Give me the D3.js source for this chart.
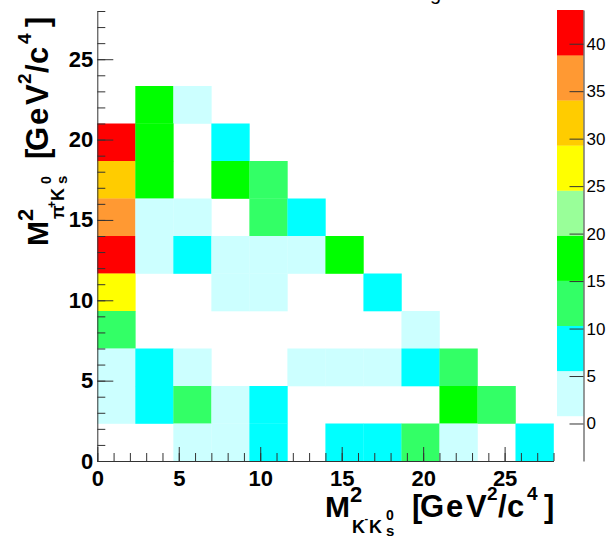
<!DOCTYPE html>
<html><head><meta charset="utf-8">
<script src="https://cdn.jsdelivr.net/npm/d3@7"></script>
<style>
body{margin:0;background:#fff}
svg{display:block}
text{font-family:"Liberation Sans",Arial,Helvetica,sans-serif}
</style>
</head><body>
<svg id="c" width="609" height="538"></svg>
<script>
// ---- data ----
const xRange = [0, 28];
const yRange = [0, 28];
const nBins = 12;
// counts per bin, rows listed from the top y-bin (11) down to the bottom y-bin (0); columns x-bin 0..11
const countsTopDown = [
  [0, 0, 0, 0, 0, 0, 0, 0, 0, 0, 0, 0],
  [0, 0, 0, 0, 0, 0, 0, 0, 0, 0, 0, 0],
  [0, 17, 3, 0, 0, 0, 0, 0, 0, 0, 0, 0],
  [42, 17, 0, 8, 0, 0, 0, 0, 0, 0, 0, 0],
  [31, 17, 0, 17, 12, 0, 0, 0, 0, 0, 0, 0],
  [37, 3, 3, 0, 12, 8, 0, 0, 0, 0, 0, 0],
  [41, 3, 8, 3, 3, 3, 17, 0, 0, 0, 0, 0],
  [27, 0, 0, 3, 3, 0, 0, 8, 0, 0, 0, 0],
  [12, 0, 0, 0, 0, 0, 0, 0, 3, 0, 0, 0],
  [3, 8, 3, 0, 0, 3, 3, 3, 8, 12, 0, 0],
  [3, 8, 12, 3, 8, 0, 0, 0, 0, 17, 12, 0],
  [0, 0, 3, 3, 8, 0, 8, 8, 12, 3, 0, 8]
];
const xMajorTicks = [0, 5, 10, 15, 20, 25];
const yMajorTicks = [0, 5, 10, 15, 20, 25];
const minorTicks = d3.range(0, 29, 1);
const zRange = [-3.95, 43.55];
const zTicks = [0, 5, 10, 15, 20, 25, 30, 35, 40];
const palette = ["#ffffff", "#ccffff", "#00ffff", "#33ff66", "#00ff00", "#99ff99", "#ffff00", "#ffcc00", "#ff9933", "#ff0000"];

// ---- layout ----
const svg = d3.select("#c");
const L = 97.3, R = 553.5, T = 11, B = 461;
const x = d3.scaleLinear(xRange, [L, R]);
const y = d3.scaleLinear(yRange, [B, T]);
const bw = (xRange[1] - xRange[0]) / nBins;
const bh = (yRange[1] - yRange[0]) / nBins;
const color = d3.scaleQuantize(zRange, palette);

// cells
const cells = [];
countsTopDown.forEach((row, i) => {
  const yb = nBins - 1 - i;
  row.forEach((v, j) => { if (v > 0) cells.push({ xb: j, yb, v }); });
});
svg.append("g").selectAll("rect").data(cells).join("rect")
  .attr("x", d => x(d.xb * bw))
  .attr("y", d => y((d.yb + 1) * bh))
  .attr("width", d => x((d.xb + 1) * bw) - x(d.xb * bw) + 0.3)
  .attr("height", d => y(d.yb * bh) - y((d.yb + 1) * bh) + 0.3)
  .attr("fill", d => color(d.v));

const axisCol = "#333";
function styleAxis(g) {
  g.selectAll("path,line").attr("stroke", axisCol).attr("stroke-width", 1);
}

// x axis
const gx = svg.append("g").attr("transform", `translate(0,${B})`);
gx.append("g").call(d3.axisBottom(x).tickValues(minorTicks).tickSizeInner(-8).tickSizeOuter(0).tickFormat(""))
  .call(styleAxis);
gx.append("g").call(d3.axisBottom(x).tickValues(xMajorTicks).tickSizeInner(-14).tickSizeOuter(0).tickPadding(9))
  .call(styleAxis)
  .call(g => g.select(".domain").remove())
  .selectAll("text").attr("font-size", 22).attr("font-weight", "bold").attr("fill", "#000")
  .attr("font-family", "'Liberation Sans',Arial,sans-serif");

// y axis
const gy = svg.append("g").attr("transform", `translate(${L},0)`);
gy.append("g").call(d3.axisLeft(y).tickValues(minorTicks).tickSizeInner(-8).tickSizeOuter(0).tickFormat(""))
  .call(styleAxis);
gy.append("g").call(d3.axisLeft(y).tickValues(yMajorTicks).tickSizeInner(-16).tickSizeOuter(0).tickPadding(4))
  .call(styleAxis)
  .call(g => g.select(".domain").remove())
  .selectAll("text").attr("font-size", 22).attr("font-weight", "bold").attr("fill", "#000")
  .attr("font-family", "'Liberation Sans',Arial,sans-serif");

// colour bar
const zx0 = 557, zx1 = 583.5;
const z = d3.scaleLinear(zRange, [B, 10]);
const nLev = palette.length;
const levW = (zRange[1] - zRange[0]) / nLev;
const bands = d3.range(nLev).map(k => ({ lo: zRange[0] + k * levW, hi: zRange[0] + (k + 1) * levW, c: palette[k] }));
svg.append("g").selectAll("rect").data(bands).join("rect")
  .attr("x", zx0).attr("width", zx1 - zx0)
  .attr("y", d => z(d.hi)).attr("height", d => z(d.lo) - z(d.hi) + 0.3)
  .attr("fill", d => d.c);
svg.append("g").attr("transform", `translate(${zx1},0)`)
  .call(d3.axisRight(z).tickValues(zTicks).tickSizeInner(-14).tickSizeOuter(0).tickPadding(3))
  .call(styleAxis)
  .selectAll("text").attr("font-size", 17).attr("fill", "#000")
  .attr("font-family", "'Liberation Sans',Arial,sans-serif");

// axis titles
function pieces(g, list) {
  list.forEach(p => g.append("text").attr("x", p.x).attr("y", p.y)
    .attr("font-size", p.s).attr("font-weight", "bold").attr("fill", "#000").text(p.t));
}
const unitPieces = [
  { t: "[", x: 87, y: 0, s: 31 },
  { t: "G", x: 95, y: 0, s: 31 },
  { t: "e", x: 121, y: 0, s: 31 },
  { t: "V", x: 141, y: 0, s: 31 },
  { t: "2", x: 162, y: -17, s: 19 },
  { t: "/", x: 173, y: 0, s: 31 },
  { t: "c", x: 182, y: 0, s: 31 },
  { t: "4", x: 202, y: -17, s: 19 },
  { t: "]", x: 219, y: 0, s: 31 }
];
const xTitle = svg.append("g").attr("transform", "translate(325,517)");
pieces(xTitle, [
  { t: "M", x: 0, y: 0, s: 30 },
  { t: "2", x: 25, y: -15, s: 22 },
  { t: "K", x: 27, y: 16, s: 18 },
  { t: "-", x: 39.5, y: 5, s: 11 },
  { t: "K", x: 44, y: 16, s: 18 },
  { t: "0", x: 61, y: 3, s: 14 },
  { t: "s", x: 61, y: 19, s: 15 }
].concat(unitPieces));
const yTitle = svg.append("g").attr("transform", "translate(48,246) rotate(-90)");
pieces(yTitle, [
  { t: "M", x: 0, y: 0, s: 30 },
  { t: "2", x: 25, y: -15, s: 22 },
  { t: "π", x: 27, y: 16, s: 18 },
  { t: "+", x: 38, y: 8, s: 12 },
  { t: "K", x: 45, y: 16, s: 18 },
  { t: "0", x: 62, y: 3, s: 14 },
  { t: "s", x: 62, y: 19, s: 15 }
].concat(unitPieces));

// clipped title remnant at the very top
svg.append("text").attr("x", 430).attr("y", 0).attr("font-size", 20).attr("fill", "#000").text("g");
</script>
</body></html>
